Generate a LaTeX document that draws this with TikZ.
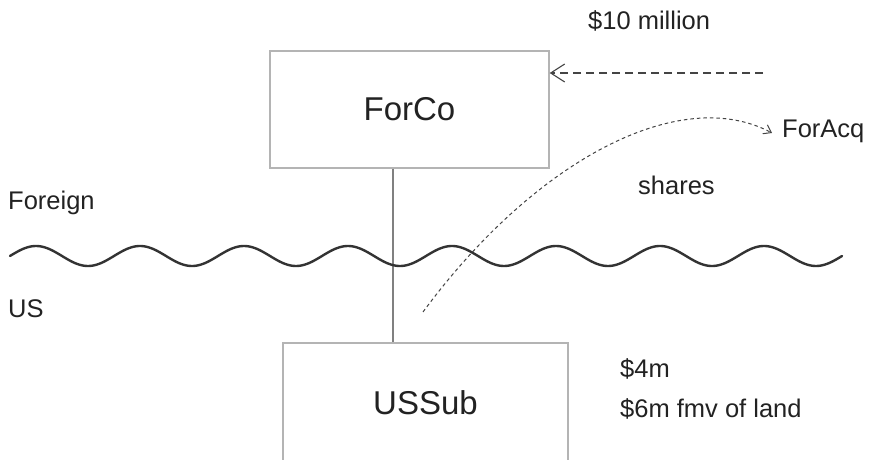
\documentclass[tikz,border=0pt]{standalone}
\usepackage{fontspec}
\setmainfont{Liberation Sans}
\usetikzlibrary{arrows.meta}
\definecolor{boxgray}{HTML}{B4B4B4}
\definecolor{linegray}{HTML}{808080}
\definecolor{wavecol}{HTML}{333333}
\definecolor{dashcol}{HTML}{444444}
\definecolor{txt}{HTML}{222222}
\tikzset{
  box/.style={draw=boxgray, line width=1.4bp, rectangle, inner sep=0pt, text=txt,
    font=\fontsize{33bp}{38bp}\selectfont},
  lbl/.style={anchor=base west, inner sep=0pt, text=txt,
    font=\fontsize{25.5bp}{30bp}\selectfont},
  flow/.style={draw=dashcol, line width=1.1bp, dash pattern=on 8bp off 5bp,
    -{Straight Barb[length=14bp,width=18bp,line width=1.1bp]}},
  sharesflow/.style={draw=dashcol, line width=1bp, dash pattern=on 3.5bp off 3bp,
    -{Straight Barb[length=7bp,width=10bp,line width=1bp]}},
}
\begin{document}
\begin{tikzpicture}[x=1bp,y=-1bp]
\useasboundingbox (0,0) rectangle (869,460);
\fill[white] (0,0) rectangle (869,460);
\clip (0,0) rectangle (869,460);

% boxes
\node[box, minimum width=279bp, minimum height=117bp] (ForCo) at (409.5,109.5) {ForCo};
\node[box, minimum width=285bp, minimum height=119bp] (USSub) at (425.5,402.5) {USSub};

% ownership line
\coordinate (v) at (393,0);
\draw[linegray, line width=1.4bp] (ForCo.south -| v) -- (USSub.north -| v);

% border wave
\draw[wavecol, line width=2.4bp, line cap=round]
  plot[domain=10:842, samples=500] (\x, {256 - 10*sin(3.461538*(\x-10))});

% labels
\node[lbl] (ten) at (588,30) {\$10 million};
\node[lbl] (foracq) at (782,138) {ForAcq};
\node[lbl] (shares) at (638,195) {shares};
\node[lbl] (foreign) at (8,210) {Foreign};
\node[lbl] (us) at (8,318) {US};
\node[lbl] (four) at (620,378) {\$4m};
\node[lbl] (six) at (620,417) {\$6m fmv of land};

% cash flow
\coordinate (a1) at (763,73);
\draw[flow] (a1) -- (ForCo.east |- a1);

% shares flow
\coordinate (c0) at (423,312);
\coordinate (c1) at (772,133);
\draw[sharesflow] (c0) .. controls (535,160) and (680,84) .. (c1);
\end{tikzpicture}
\end{document}
